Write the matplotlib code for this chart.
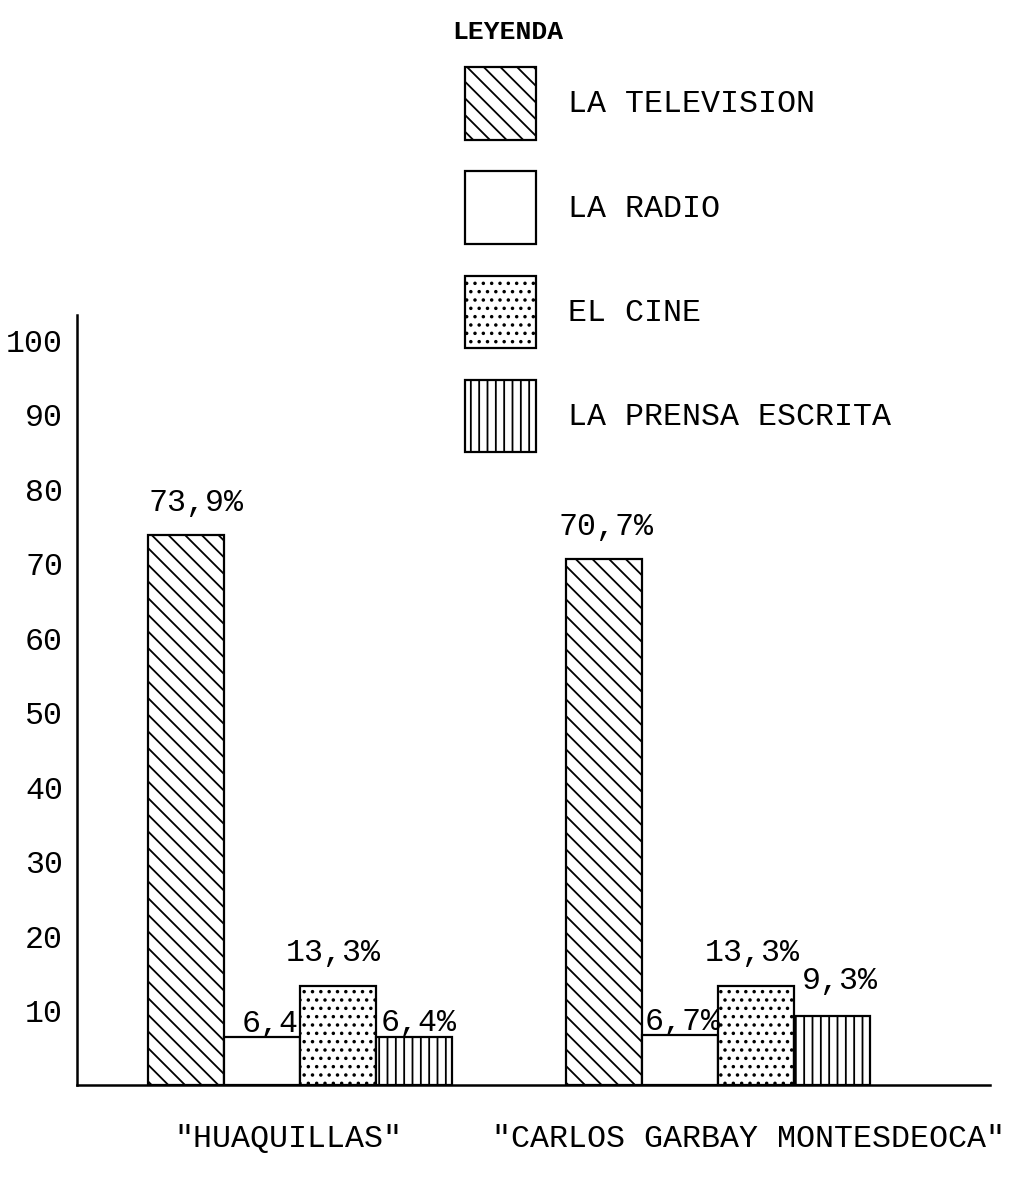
import numpy as np
import matplotlib.pyplot as plt

plt.rcParams['font.family'] = ['Liberation Mono', 'DejaVu Sans Mono']
plt.rcParams['hatch.linewidth'] = 1.3

# datos
grupos = ['"HUAQUILLAS"', '"CARLOS GARBAY MONTESDEOCA"']
medios = ['LA TELEVISION', 'LA RADIO', 'EL CINE', 'LA PRENSA ESCRITA']
tv = [73.9, 70.7]
radio = [6.4, 6.7]
cine = [13.3, 13.3]
prensa = [6.4, 9.3]
etq_tv = ['73,9%', '70,7%']
etq_radio = ['6,4', '6,7%']
etq_cine = ['13,3%', '13,3%']
etq_prensa = ['6,4%', '9,3%']
yticks = [10, 20, 30, 40, 50, 60, 70, 80, 90, 100]

series = [tv, radio, cine, prensa]
etiquetas = [etq_tv, etq_radio, etq_cine, etq_prensa]
tramas = ['\\\\', '', '..', '||']

# desplazamiento de las etiquetas (px): dx, dy sobre la barra
desp = [[(10, 32), (2, 32)],
        [(8, 13), (3, 13)],
        [(-4, 33), (-4, 33)],
        [(5, 14), (8, 35)]]

fig = plt.figure(figsize=(10.14, 11.77), dpi=100)
ax = fig.add_axes([77/1014, 1 - 1085/1177, 913/1014, 770/1177])

inicio = np.array([0, 5.5])
FS = 22.8

barras = []
for i, vals in enumerate(series):
    x = inicio + i
    b = ax.bar(x, vals, width=1.0, color='white', edgecolor='black',
               linewidth=1.6, hatch=tramas[i], label=medios[i])
    barras.append(b)
    for j, rect in enumerate(b):
        dx, dy = desp[i][j]
        ax.annotate(etiquetas[i][j],
                    (rect.get_x() + rect.get_width() / 2, rect.get_height()),
                    xytext=(dx * 0.72, dy * 0.72), textcoords='offset points',
                    ha='center', va='center', fontsize=FS)

ax.set_xlim(-1.43, 10.58)
ax.set_ylim(0, 103.4)
ax.set_yticks(yticks)
ax.set_yticklabels([str(v) for v in yticks], fontsize=FS)
ax.tick_params(axis='y', length=0, pad=10)
ax.set_xticks([])

for s in ['top', 'right']:
    ax.spines[s].set_visible(False)
for s in ['left', 'bottom']:
    ax.spines[s].set_linewidth(1.8)

# nombres de los colegios
centros = inicio + 1.5
corr = [-0.15, 0.4]
for c, d, g in zip(centros, corr, grupos):
    ax.text(c + d, -7.2, g, ha='center', va='center', fontsize=FS,
            clip_on=False)

# leyenda
fig.text(508/1014, 1 - 32/1177, 'LEYENDA', ha='center', va='center',
         fontsize=19, fontweight='bold')
fig.legend(handles=barras, labels=medios, loc='upper left',
           bbox_to_anchor=(465/1014, 1 - 67/1177), frameon=False,
           fontsize=FS, handlelength=2.25, handleheight=3.15,
           handletextpad=1.0, labelspacing=1.0, borderpad=0,
           borderaxespad=0)

plt.savefig('out.png', dpi=100)
